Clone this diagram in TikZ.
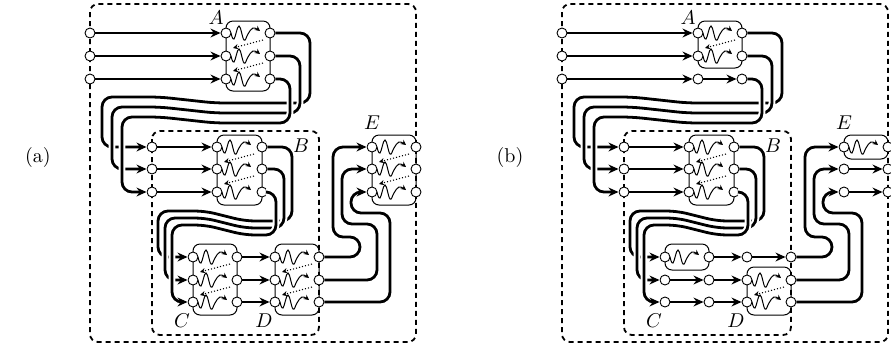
\documentclass[tikz,border=0pt]{standalone}
\usepackage{amsmath,amsfonts,amssymb}
\usetikzlibrary{shapes, arrows.meta, positioning}

\tikzset{
  port/.style={circle, draw, fill=white, line width=0.45pt, inner sep=0pt, minimum size=5pt},
  flow/.style={line width=1.4pt, -{Stealth[length=5pt,width=4.4pt]}},
  wire/.style={flow, rounded corners=5pt, preaction={draw, white, line width=3.4pt, -}},
  unit/.style={draw, line width=0.5pt, rounded corners=3.5pt},
  group/.style={draw, line width=0.9pt, dash pattern=on 2.5pt off 2pt, rounded corners=4pt},
  wiggle/.style={line width=0.5pt, -{Stealth[length=2.6pt,width=2.6pt]}},
  back/.style={line width=0.55pt, densely dotted, -{Stealth[length=2.6pt,width=2.6pt]}},
}

% wavy arrow and dotted feedback inside a unit, placed from its left port
\newcommand{\wavy}[1]{\draw[wiggle, shift={(#1)}] plot[smooth, tension=0.7] coordinates {(5,0) (8,6) (13,-7) (18,7) (22,1) (27,-5) (34,-2)};}
\newcommand{\feedback}[1]{\draw[back, shift={(#1)}] (37,7) -- (7,15);}

% groups, ports, labels and wiring shared by both panels
\newcommand{\panelbase}{
  \draw[group] (90,4) rectangle (416,342);
  \draw[group] (152,131) rectangle (319,335);
  \foreach \y [count=\i] in {33,56,79} {
    \node[port] (in\i) at (90,\y) {};
    \node[port] (al\i) at (226,\y) {};
    \node[port] (ar\i) at (270,\y) {};
  }
  \foreach \y [count=\i] in {147,169,192} {
    \node[port] (bi\i) at (152,\y) {};
    \node[port] (bl\i) at (217,\y) {};
    \node[port] (br\i) at (262,\y) {};
    \node[port] (el\i) at (372,\y) {};
    \node[port] (er\i) at (416,\y) {};
  }
  \foreach \y [count=\i] in {257,280,302} {
    \node[port] (cl\i) at (193,\y) {};
    \node[port] (cr\i) at (237,\y) {};
    \node[port] (dl\i) at (275,\y) {};
    \node[port] (dr\i) at (319,\y) {};
  }
  \node (labA) at (216,18) {$A$};
  \node (labB) at (301,146) {$B$};
  \node (labC) at (182,321) {$C$};
  \node (labD) at (264,321) {$D$};
  \node (labE) at (372,123) {$E$};
  \foreach \i in {1,2,3} {
    \draw[flow] (in\i) -- (al\i);
    \draw[flow] (bi\i) -- (bl\i);
    \draw[flow] (cr\i) -- (dl\i);
  }
  % A to B
  \foreach \i/\xr/\yh/\xl in {1/310/100/102, 2/300/110/112, 3/290/120/122}
    \draw[wire] (ar\i.east) -| (\xr,\yh+3) -- (215,\yh+3) -- (160,\yh-3) -- (\xl,\yh-3) |- (bi\i.west);
  % B to C
  \foreach \i/\xr/\yh/\xl in {1/292/216/158, 2/284/223/165, 3/276/230/172}
    \draw[wire] (br\i.east) -| (\xr,\yh+5) -- (245,\yh+5) -- (205,\yh-5) -- (\xl,\yh-5) |- (cl\i.west);
  % D to E
  \foreach \i/\xr/\yh/\xl in {1/360/237/333, 2/377/224/342, 3/390/213/351}
    \draw[wire] (dr\i.east) -| (\xr,\yh) -- (\xl,\yh) |- (el\i.west);
}

\begin{document}
\begin{tikzpicture}[x=0.5pt, y=-0.5pt, font=\normalsize]
\useasboundingbox (0,0) rectangle (891,350);
% (a) every unit on all three lines
\begin{scope}[name prefix=a-]
\draw[unit] (226,21) rectangle (270,91);
\draw[unit] (217,135) rectangle (262,205);
\draw[unit] (193,244) rectangle (237,315);
\draw[unit] (275,244) rectangle (319,315);
\draw[unit] (372,135) rectangle (416,205);
\panelbase
\node (tag) at (38,157) {(a)};
\foreach \m in {al,bl,cl,dl,el} {
  \foreach \i in {1,2,3} {\wavy{\m\i}}
  \foreach \i in {1,2} {\feedback{\m\i}}
}
\end{scope}
% (b) units on part of the lines only
\begin{scope}[shift={(472,0)}, name prefix=b-]
\draw[unit] (226,21) rectangle (270,68);
\draw[unit] (217,135) rectangle (262,205);
\draw[unit] (193,244) rectangle (237,270);
\draw[unit] (275,267) rectangle (319,315);
\draw[unit] (372,135) rectangle (416,159);
\panelbase
\node (tag) at (38,157) {(b)};
\foreach \p in {al1,al2,bl1,bl2,bl3,cl1,dl2,dl3,el1} {\wavy{\p}}
\foreach \p in {al1,bl1,bl2,dl2} {\feedback{\p}}
\foreach \p/\q in {al3/ar3, cl2/cr2, cl3/cr3, dl1/dr1, el2/er2, el3/er3}
  \draw[flow] (\p) -- (\q);
\end{scope}
\end{tikzpicture}
\end{document}
